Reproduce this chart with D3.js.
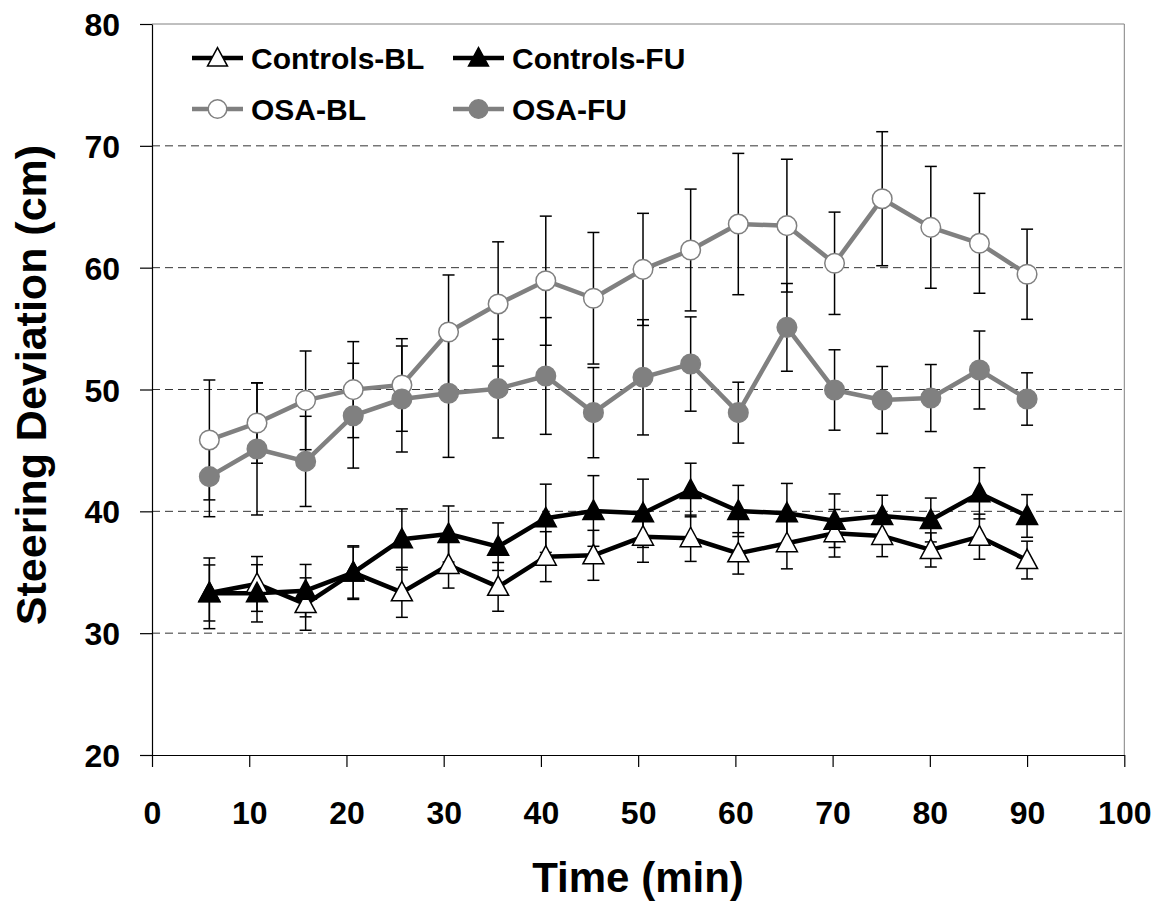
<!DOCTYPE html>
<html>
<head>
<meta charset="utf-8">
<script src="https://cdn.jsdelivr.net/npm/d3@7"></script>
<style>
  html, body { margin: 0; padding: 0; background: #fff; }
  svg { display: block; }
  text { font-family: "Liberation Sans", Arial, sans-serif; font-weight: bold; fill: #000; }
</style>
</head>
<body>
<svg id="chart" width="1172" height="904"></svg>
<script>
// ---- data ----
const times = [5.9, 10.8, 15.8, 20.7, 25.7, 30.5, 35.6, 40.5, 45.4, 50.5, 55.4, 60.3, 65.3, 70.2, 75.1, 80.1, 85.1, 90.0];

const controlsBL    = [33.3, 34.04, 32.39, 34.97, 33.35, 35.6, 33.8, 36.28, 36.39, 37.92, 37.79, 36.55, 37.38, 38.2, 37.98, 36.83, 37.92, 36.0];
const controlsBLErr = [2.3, 2.25, 2.15, 2.2, 2.05, 1.9, 2.0, 2.05, 2.05, 2.1, 1.9, 1.7, 2.1, 1.95, 1.7, 1.4, 1.85, 1.55];

const controlsFU    = [33.27, 33.27, 33.49, 34.97, 37.7, 38.14, 37.1, 39.43, 40.03, 39.84, 41.75, 40.03, 39.84, 39.23, 39.62, 39.29, 41.48, 39.62];
const controlsFUErr = [2.9, 2.35, 2.15, 2.1, 2.5, 2.3, 1.95, 2.8, 2.9, 2.8, 2.2, 2.1, 2.45, 2.2, 1.7, 1.8, 2.1, 1.75];

const osaBL    = [45.86, 47.25, 49.11, 49.99, 50.37, 54.72, 57.02, 58.93, 57.49, 59.86, 61.45, 63.58, 63.45, 60.36, 65.66, 63.31, 62.0, 59.46];
const osaBLErr = [4.92, 3.3, 4.05, 3.94, 3.8, 4.68, 5.1, 5.3, 5.4, 4.6, 5.0, 5.8, 5.45, 4.2, 5.5, 5.0, 4.1, 3.7];

const osaFU    = [42.85, 45.12, 44.1, 47.85, 49.22, 49.69, 50.07, 51.11, 48.1, 51.0, 52.09, 48.1, 55.1, 49.96, 49.14, 49.3, 51.6, 49.22];
const osaFUErr = [3.29, 5.42, 3.7, 4.3, 4.35, 5.26, 4.05, 4.79, 3.7, 4.73, 3.87, 2.5, 3.6, 3.3, 2.75, 2.75, 3.2, 2.15];

const seriesNames = ["Controls-BL", "Controls-FU", "OSA-BL", "OSA-FU"];
const xTicks = [0, 10, 20, 30, 40, 50, 60, 70, 80, 90, 100];
const yTicks = [20, 30, 40, 50, 60, 70, 80];
const xTitle = "Time (min)";
const yTitle = "Steering Deviation (cm)";

// ---- layout ----
const svg = d3.select("#chart");
const L = 152, R = 1124.3, T = 24, B = 755;
const x = d3.scaleLinear().domain([0, 100]).range([L, R]);
const y = d3.scaleLinear().domain([20, 80]).range([B, T]);

const GREY = "#808080";
const series = [
  { name: seriesNames[0], vals: controlsBL, err: controlsBLErr, line: "#000", shape: "tri", fill: "#fff", stroke: "#000" },
  { name: seriesNames[1], vals: controlsFU, err: controlsFUErr, line: "#000", shape: "tri", fill: "#000", stroke: "#000" },
  { name: seriesNames[2], vals: osaBL, err: osaBLErr, line: GREY, shape: "circ", fill: "#fff", stroke: GREY },
  { name: seriesNames[3], vals: osaFU, err: osaFUErr, line: GREY, shape: "circ", fill: GREY, stroke: GREY }
];

// gridlines
svg.append("g").selectAll("line").data(yTicks.filter(d => d > 20 && d < 80)).join("line")
  .attr("x1", L).attr("x2", R).attr("y1", d => y(d)).attr("y2", d => y(d))
  .attr("stroke", "#333").attr("stroke-width", 1).attr("stroke-dasharray", "8,5");

// top and right borders
svg.append("line").attr("x1", L).attr("x2", R).attr("y1", T).attr("y2", T).attr("stroke", GREY).attr("stroke-width", 1);
svg.append("line").attr("x1", R).attr("x2", R).attr("y1", T).attr("y2", B).attr("stroke", GREY).attr("stroke-width", 1);

// axes
const xAxis = d3.axisBottom(x).tickValues(xTicks).tickSizeOuter(0).tickSizeInner(12).tickPadding(34).tickFormat(d3.format("d"));
const gx = svg.append("g").attr("transform", `translate(0,${B})`).call(xAxis);
gx.selectAll("text").style("font-size", "32px").attr("dy", "0.72em");
gx.selectAll("line, path").attr("stroke", "#000").attr("stroke-width", 1.2);

const yAxis = d3.axisLeft(y).tickValues(yTicks).tickSizeOuter(0).tickSizeInner(12).tickPadding(20).tickFormat(d3.format("d"));
const gy = svg.append("g").attr("transform", `translate(${L},0)`).call(yAxis);
gy.selectAll("text").style("font-size", "32px").attr("dy", "0.36em");
gy.selectAll("line, path").attr("stroke", "#000").attr("stroke-width", 1.2);

// titles
svg.append("text").attr("x", 638).attr("y", 892).attr("text-anchor", "middle").style("font-size", "42px").text(xTitle);
svg.append("text").attr("transform", "translate(46,385) rotate(-90)").attr("text-anchor", "middle").style("font-size", "43px").text(yTitle);

// error bars
const eb = svg.append("g");
series.forEach(s => {
  s.vals.forEach((v, i) => {
    const cx = x(times[i]);
    const y1 = y(v + s.err[i]), y2 = y(v - s.err[i]);
    eb.append("line").attr("x1", cx).attr("x2", cx).attr("y1", y1).attr("y2", y2).attr("stroke", "#000").attr("stroke-width", 1.5);
    [y1, y2].forEach(yy => eb.append("line").attr("x1", cx - 6).attr("x2", cx + 6).attr("y1", yy).attr("y2", yy).attr("stroke", "#000").attr("stroke-width", 1.5));
  });
});

// lines
const lineGen = d3.line().x((d, i) => x(times[i])).y(d => y(d));
series.forEach(s => {
  svg.append("path").attr("d", lineGen(s.vals)).attr("fill", "none")
    .attr("stroke", s.line).attr("stroke-width", 4.5).attr("stroke-linejoin", "round");
});

// markers
const triPath = "M0,-11 L10.5,8.5 L-10.5,8.5 Z";
function drawMarker(g, s, cx, cy, scale) {
  if (s.shape === "tri") {
    g.append("path").attr("d", triPath).attr("transform", `translate(${cx},${cy}) scale(${scale})`)
      .attr("fill", s.fill).attr("stroke", s.stroke).attr("stroke-width", 1.5 / scale);
  } else {
    g.append("circle").attr("cx", cx).attr("cy", cy).attr("r", 9.8 * scale)
      .attr("fill", s.fill).attr("stroke", s.stroke).attr("stroke-width", 1.5);
  }
}
series.forEach(s => {
  const g = svg.append("g");
  s.vals.forEach((v, i) => drawMarker(g, s, x(times[i]), y(v), 1));
});

// legend
const legendPos = [
  { lx: 192, ly: 58, tx: 251 },
  { lx: 453, ly: 58, tx: 512 },
  { lx: 192, ly: 109, tx: 251 },
  { lx: 453, ly: 109, tx: 512 }
];
series.forEach((s, i) => {
  const p = legendPos[i];
  const g = svg.append("g");
  g.append("line").attr("x1", p.lx).attr("x2", p.lx + 51).attr("y1", p.ly).attr("y2", p.ly)
    .attr("stroke", s.line).attr("stroke-width", 4.5);
  drawMarker(g, s, p.lx + 25.5, p.ly, 0.95);
  g.append("text").attr("x", p.tx).attr("y", p.ly + 10.5).style("font-size", "30px").text(s.name);
});
</script>
</body>
</html>
